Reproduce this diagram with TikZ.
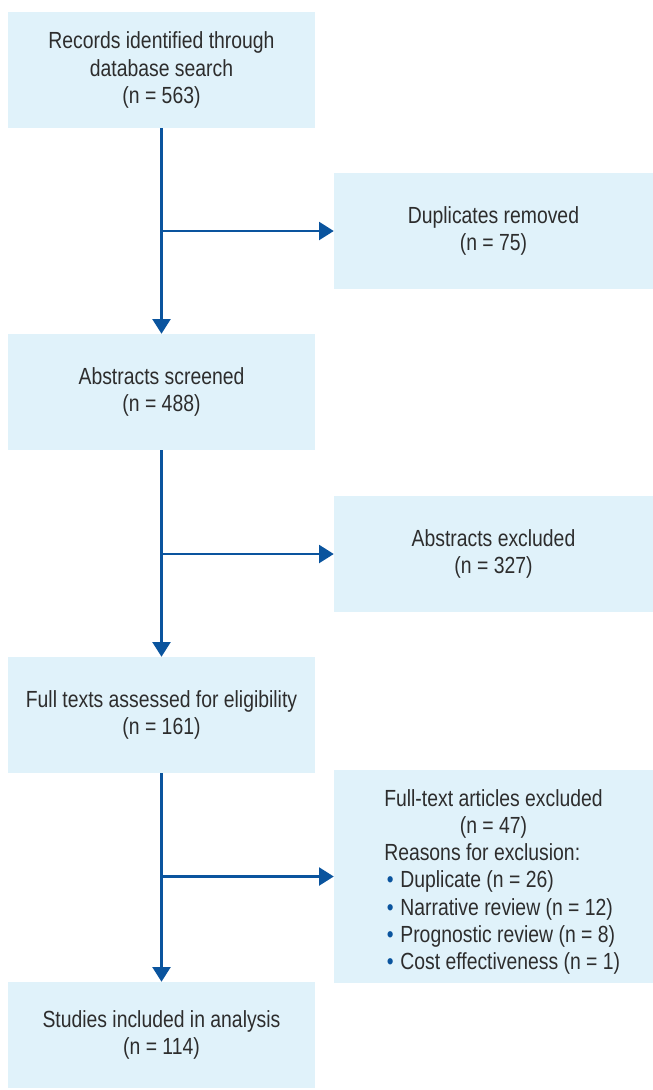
\documentclass[tikz,border=0pt]{standalone}
\usepackage{fontspec}
\setmainfont[FakeStretch=0.83]{Liberation Sans}
\usepackage{tikz}
\usetikzlibrary{arrows.meta}

\definecolor{boxfill}{RGB}{224,242,250}
\definecolor{flowblue}{RGB}{10,84,158}
\definecolor{textgray}{RGB}{45,45,45}

\tikzset{
  flowbox/.style={fill=boxfill, draw=none, minimum width=307*0.75pt, minimum height=116*0.75pt, inner sep=0pt, align=center, text=textgray, font=\fontsize{17.5}{20.6}\selectfont},
  flowarrow/.style={draw=flowblue, line width=1.6pt, -{Triangle[length=11pt,width=13.5pt]}}
}
\newcommand{\bul}{\hspace{2pt}{\color{flowblue}\textbullet}\hspace{5pt}}

\begin{document}
\begin{tikzpicture}[x=0.75pt,y=0.75pt,yscale=-1,xscale=1]
\useasboundingbox (0,0) rectangle (653,1090);

%Boxes, left column
\node [flowbox] (records) at (161.5,70) {Records identified through\\database search\\(n = 563)};
\node [flowbox] (screened) at (161.5,392) {Abstracts screened\\(n = 488)};
\node [flowbox] (fulltext) at (161.5,715) {Full texts assessed for eligibility\\(n = 161)};
\node [flowbox, minimum height=106*0.75pt] (included) at (161.5,1035) {Studies included in analysis\\(n = 114)};

%Boxes, right column
\node [flowbox, minimum width=319*0.75pt] (duplicates) at (493.5,231) {Duplicates removed\\(n = 75)};
\node [flowbox, minimum width=319*0.75pt] (absexcl) at (493.5,554) {Abstracts excluded\\(n = 327)};
\node [flowbox, minimum width=319*0.75pt, minimum height=213*0.75pt] (ftexcl) at (493.5,876.5) {};
% Text Node
\node [anchor=north west, inner sep=0pt, text=textgray, font=\fontsize{17.5}{20.6}\selectfont] (ftexcltext) at (384,787) {%
  \begin{tabular}{@{}l@{}}
  \begin{tabular}{@{}c@{}}Full-text articles excluded\\(n = 47)\end{tabular}\\[-1pt]
  Reasons for exclusion:\\
  \bul Duplicate (n = 26)\\
  \bul Narrative review (n = 12)\\
  \bul Prognostic review (n = 8)\\
  \bul Cost effectiveness (n = 1)
  \end{tabular}};

%Arrows
\draw [flowarrow] (records.south) -- (screened.north);
\draw [flowarrow] (records.south |- duplicates.west) -- (duplicates.west);
\draw [flowarrow] (screened.south) -- (fulltext.north);
\draw [flowarrow] (screened.south |- absexcl.west) -- (absexcl.west);
\draw [flowarrow] (fulltext.south) -- (included.north);
\draw [flowarrow] (fulltext.south |- ftexcl.west) -- (ftexcl.west);

\end{tikzpicture}
\end{document}
